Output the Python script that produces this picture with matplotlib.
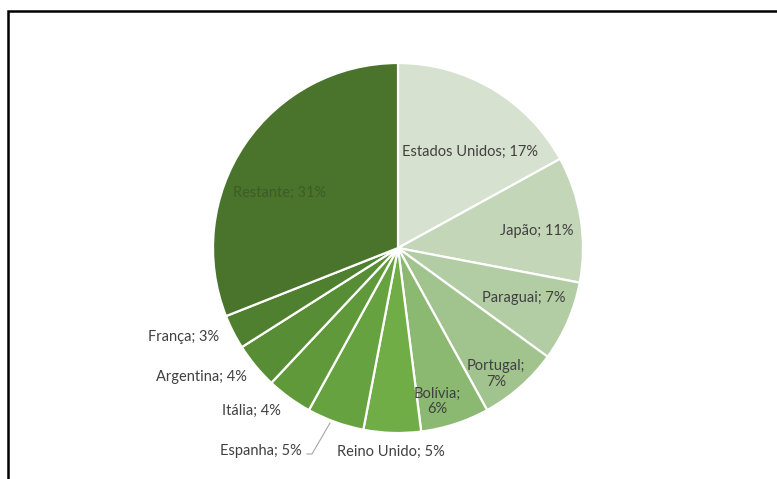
import matplotlib.pyplot as plt
from matplotlib.patches import Rectangle

plt.rcParams['font.family'] = ['Lato', 'DejaVu Sans']

paises = ['Estados Unidos', 'Japão', 'Paraguai', 'Portugal', 'Bolívia',
          'Reino Unido', 'Espanha', 'Itália', 'Argentina', 'França', 'Restante']
percentuais = [17, 11, 7, 7, 6, 5, 5, 4, 4, 3, 31]
cores = ['#d7e1cf', '#c4d6b8', '#b2cca3', '#a1c38d', '#8bb971', '#70ad47',
         '#67a240', '#5f9939', '#578d34', '#4f8030', '#4a732c']

# where each label goes (x, y in units of the pie radius) and how it breaks
rotulos_pos = [(0.39, 0.52), (0.75, 0.09), (0.68, -0.27), (0.53, -0.68),
               (0.21, -0.83), (-0.04, -1.10), (-0.74, -1.10), (-0.79, -0.88),
               (-1.06, -0.70), (-1.16, -0.48), (-0.64, 0.30)]
quebra = ['Portugal', 'Bolívia']

W, H = 777, 479
cx, cy, R = 398, 231, 185   # centre measured from the bottom, radius in px

fig = plt.figure(figsize=(W / 100, H / 100), dpi=100)
ax = fig.add_axes([0, 0, 1, 1])

ax.pie(percentuais, colors=cores, startangle=90, counterclock=False,
       radius=1, wedgeprops=dict(edgecolor='white', linewidth=1.6))

# pie() resets the limits, so set them afterwards
ax.set_aspect('auto')
ax.set_xlim(-cx / R, (W - cx) / R)
ax.set_ylim(-cy / R, (H - cy) / R)
ax.axis('off')

for nome, p, (x, y) in zip(paises, percentuais, rotulos_pos):
    sep = ';\n' if nome in quebra else '; '
    cor = '#3d5c27' if nome == 'Restante' else '#404040'
    ax.text(x, y, f'{nome}{sep}{p}%', ha='center', va='center',
            fontsize=10.5, color=cor, linespacing=1.15)

# leader line for Espanha
ax.plot([(307 - cx) / R, (312 - cx) / R, (330 - cx) / R],
        [-(454 - 248) / R, -(454 - 248) / R, -(423 - 248) / R],
        color='#a6a6a6', linewidth=0.8)

# outer chart frame (only top and left edges fall inside the image)
fig.patches.append(Rectangle((8 / W, -0.1), 1.2, 1.1 - 11 / H,
                             transform=fig.transFigure, fill=False,
                             edgecolor='black', linewidth=1.8))

fig.savefig('out.png', dpi=100)
